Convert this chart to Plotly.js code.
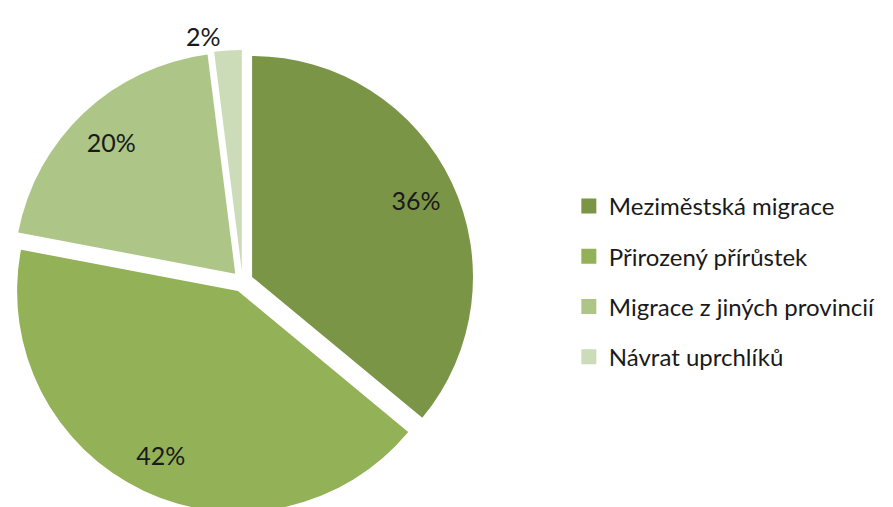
<!DOCTYPE html>
<html>
<head>
<meta charset="utf-8">
<script src="https://cdn.plot.ly/plotly-3.0.1.min.js"></script>
<style>
html,body{margin:0;padding:0;overflow:hidden;background:#fff;}
#chart{width:893px;height:520px;}
</style>
</head>
<body>
<div id="chart"></div>
<script>
var labels = ["Meziměstská migrace", "Přirozený přírůstek", "Migrace z jiných provincií", "Návrat uprchlíků"];
var values = [36, 42, 20, 2];
var colors = ["#7B9547", "#93B157", "#ADC687", "#CCDCB9"];
var textPositions = ["inside", "inside", "inside", "outside"];

var FONT = "Lato, 'Open Sans', sans-serif";
var PIE_DOMAIN = {x: [11/893, 474/893], y: [0, 1]};
var PULL = 0.048;

// the visible pie slices
var pieTrace = {
  type: "pie",
  labels: labels,
  values: values,
  sort: false,
  direction: "clockwise",
  rotation: 0,
  pull: PULL,
  marker: {colors: colors, line: {width: 0}},
  textinfo: "none",
  domain: PIE_DOMAIN,
  showlegend: false,
  hoverinfo: "label+percent"
};

// same pie, transparent ring, used only to place the percentage labels
// further out along each slice (as in the original chart)
var labelTrace = {
  type: "pie",
  labels: labels,
  values: values,
  sort: false,
  direction: "clockwise",
  rotation: 0,
  pull: PULL,
  hole: 0.64,
  marker: {colors: colors.map(function () { return "rgba(0,0,0,0)"; }), line: {width: 0}},
  textinfo: "percent",
  texttemplate: "%{percent:.0%}",
  textposition: textPositions,
  insidetextorientation: "horizontal",
  textfont: {family: FONT, size: 25, color: "#1a1a1a"},
  insidetextfont: {family: FONT, size: 25, color: "#1a1a1a"},
  outsidetextfont: {family: FONT, size: 25, color: "#1a1a1a"},
  domain: PIE_DOMAIN,
  showlegend: false,
  hoverinfo: "skip"
};

// legend entries: one per category, same labels and colours as the pie
var legendTraces = labels.map(function (lab, i) {
  return {
    type: "scatter",
    mode: "markers",
    x: [null],
    y: [null],
    name: lab,
    legendgroup: "g" + i,
    marker: {symbol: "square", size: 15, color: colors[i], line: {width: 0}},
    hoverinfo: "skip",
    showlegend: true
  };
});

var layout = {
  width: 893,
  height: 520,
  margin: {l: 0, r: 0, t: 50, b: 7},
  paper_bgcolor: "#ffffff",
  plot_bgcolor: "#ffffff",
  xaxis: {visible: false},
  yaxis: {visible: false},
  showlegend: true,
  legend: {
    x: 0.637, xanchor: "left",
    y: 0.5, yanchor: "middle",
    traceorder: "grouped",
    tracegroupgap: 16,
    itemsizing: "trace",
    font: {family: FONT, size: 24, color: "#1a1a1a"},
    bgcolor: "rgba(0,0,0,0)"
  }
};

Plotly.newPlot("chart", [pieTrace, labelTrace].concat(legendTraces), layout, {staticPlot: true});
</script>
</body>
</html>
